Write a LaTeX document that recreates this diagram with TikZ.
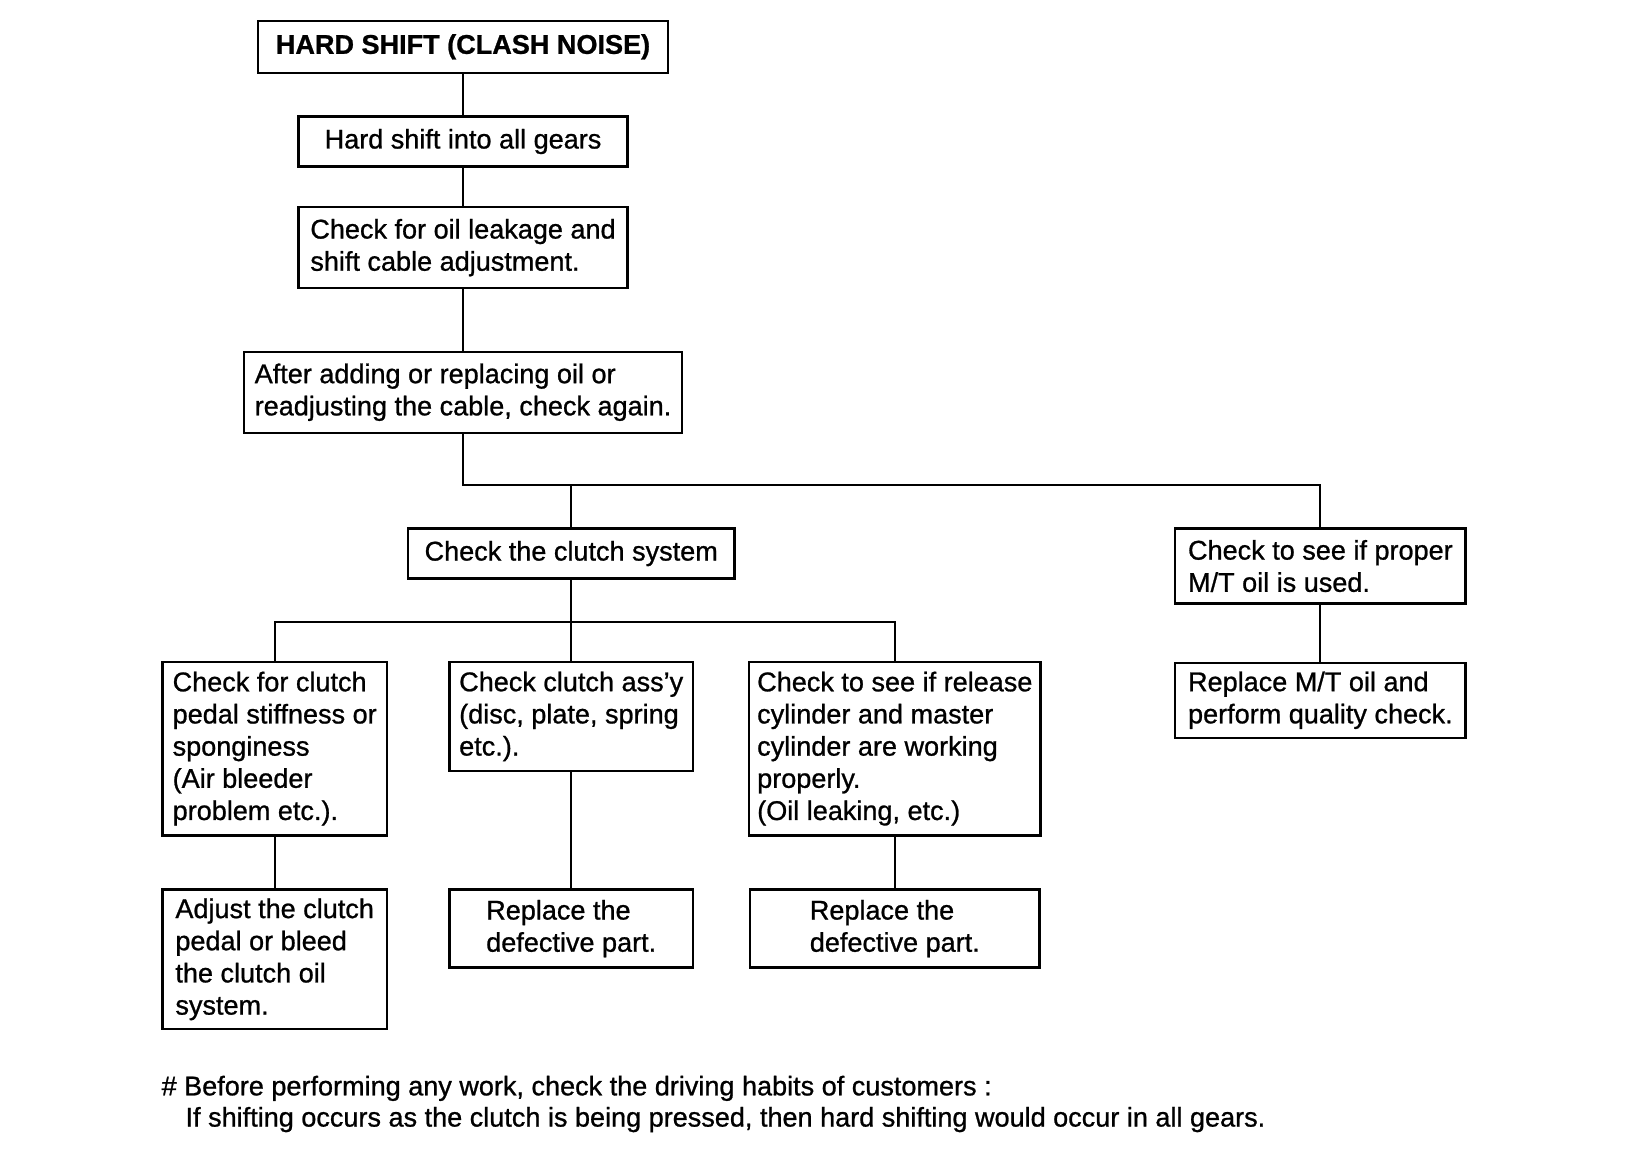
\documentclass[tikz,border=0pt]{standalone}
\usepackage{fontspec}
\setmainfont{Liberation Sans}[UprightFeatures={FakeBold=0.9}, BoldFeatures={FakeBold=0.9}]
\usetikzlibrary{positioning, calc}

\begin{document}
\begin{tikzpicture}[x=0.02cm, y=-0.02cm,
    font=\fontsize{14.8}{17.6}\selectfont,
    box/.style={draw, line width=1.3pt, align=left, inner sep=0pt},
    link/.style={-, line width=1.1pt}]
\useasboundingbox (0,0) rectangle (1568.5,1111);
% main line
\node[box, minimum width=7.88cm, minimum height=1cm] (title) at (445,45) {\textbf{HARD SHIFT (CLASH NOISE)}};
\node[box, minimum width=6.32cm, minimum height=0.96cm] (gears) at (445,136) {Hard shift into all gears};
\node[box, minimum width=6.32cm, minimum height=1.56cm] (leak) at (445,238) {Check for oil leakage and\\shift cable adjustment.};
\node[box, minimum width=8.42cm, minimum height=1.56cm] (again) at (445,377) {After adding or replacing oil or\\readjusting the cable, check again.};
% two branches
\node[box, minimum width=6.28cm, minimum height=0.96cm] (clutch) at (549,532) {Check the clutch system};
\node[box, minimum width=5.58cm, minimum height=1.44cm] (proper) at (1269,544) {Check to see if proper\\M/T oil is used.};
\node[box, minimum width=5.58cm, minimum height=1.44cm] (mtoil) at (1269,673) {Replace M/T oil and\\perform quality check.};
% clutch checks
\node[box, minimum width=4.32cm, minimum height=3.34cm] (pedal) at (264,719.5) {Check for clutch\\pedal stiffness or\\sponginess\\(Air bleeder\\problem etc.).};
\node[box, minimum width=4.68cm, minimum height=2.1cm] (assy) at (549,688.5) {Check clutch ass'y\\(disc, plate, spring\\etc.).};
\node[box, minimum width=5.6cm, minimum height=3.34cm] (release) at (860,719.5) {Check to see if release\\cylinder and master\\cylinder are working\\properly.\\(Oil leaking, etc.)};
% remedies
\node[box, minimum width=4.32cm, minimum height=2.68cm] (adjust) at (264,922) {Adjust the clutch\\pedal or bleed\\the clutch oil\\system.};
\node[box, minimum width=4.68cm, minimum height=1.5cm] (part1) at (549,892.5) {Replace the\\defective part.};
\node[box, minimum width=5.56cm, minimum height=1.5cm] (part2) at (860,892.5) {Replace the\\defective part.};
% note
\node[anchor=west, inner sep=0pt] (note1) at (155,1046) {\# Before performing any work, check the driving habits of customers :};
\node[anchor=west, inner sep=0pt] (note2) at (178,1076) {If shifting occurs as the clutch is being pressed, then hard shifting would occur in all gears.};
\draw[link] (title) -- (gears);
\draw[link] (gears) -- (leak);
\draw[link] (leak) -- (again);
\draw[link] (again.south) -- ++(0,49) coordinate (j1) -| (proper.north);
\draw[link] (clutch.north) -- (clutch.north |- j1);
\draw[link] (clutch.south) -- (assy.north);
\draw[link] (pedal.north) |- ($(clutch.south)+(0,41)$) -| (release.north);
\draw[link] (proper) -- (mtoil);
\draw[link] (pedal) -- (adjust);
\draw[link] (assy) -- (part1);
\draw[link] (release) -- (part2);
\end{tikzpicture}
\end{document}
